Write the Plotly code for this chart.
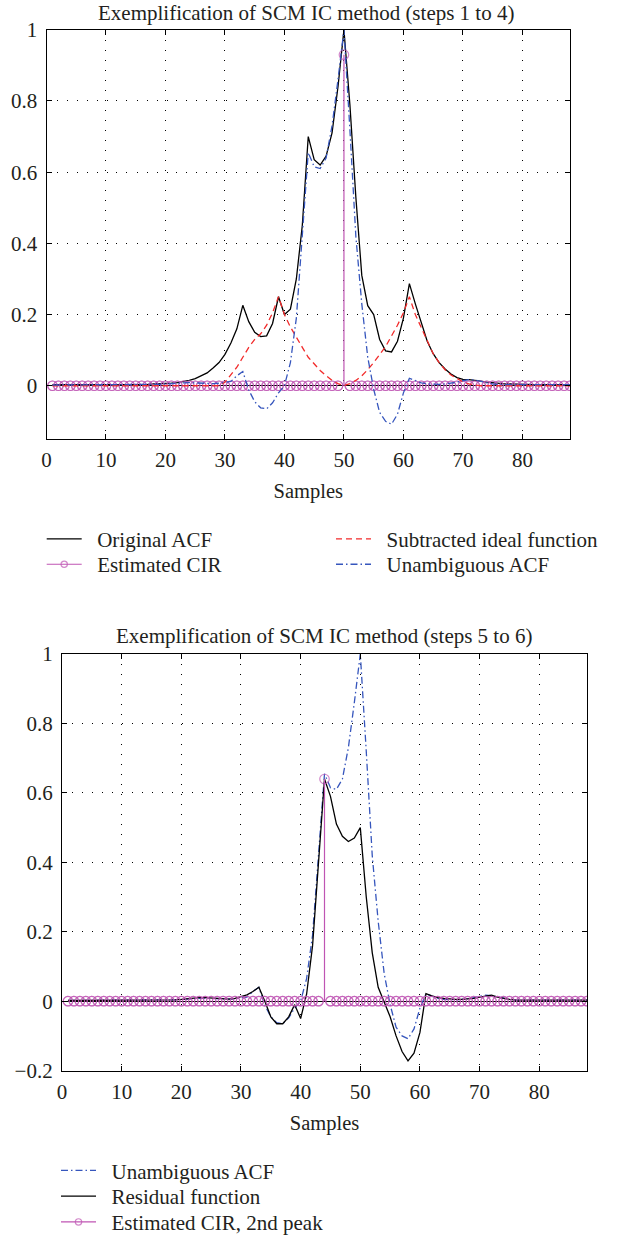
import plotly.graph_objects as go

# ---------------- data ----------------
samples = list(range(1, 89))

# top panel (steps 1 to 4)
orig_acf = [
    0.003, 0.003, 0.002, 0.002, 0.003, 0.003, 0.002, 0.002, 0.003, 0.003,
    0.003, 0.002, 0.002, 0.003, 0.004, 0.004, 0.004, 0.005, 0.005, 0.006,
    0.007, 0.009, 0.011, 0.015, 0.020, 0.027, 0.036, 0.050, 0.065, 0.088,
    0.120, 0.160, 0.226, 0.180, 0.150, 0.138, 0.140, 0.175, 0.250, 0.200,
    0.215, 0.300, 0.450, 0.700, 0.635, 0.620, 0.645, 0.710, 0.840, 1.000,
    0.790, 0.530, 0.310, 0.225, 0.200, 0.130, 0.098, 0.095, 0.125, 0.190,
    0.287, 0.230, 0.175, 0.125, 0.090, 0.065, 0.047, 0.033, 0.023, 0.018,
    0.017, 0.016, 0.013, 0.010, 0.008, 0.006, 0.005, 0.005, 0.004, 0.004,
    0.004, 0.003, 0.003, 0.003, 0.003, 0.003, 0.003, 0.003,
]

subtracted_ideal = [
    0.0, 0.0, 0.0, 0.0, 0.0, 0.0, 0.0, 0.0, 0.0, 0.0,
    0.0, 0.0, 0.0, 0.0, 0.0, 0.0, 0.0, 0.0, 0.0, 0.0,
    0.0, 0.0, 0.0, 0.0, 0.0, 0.0, 0.0, 0.0, 0.0, 0.010,
    0.030, 0.052, 0.080, 0.108, 0.130, 0.146, 0.170, 0.205, 0.250, 0.200,
    0.165, 0.135, 0.108, 0.080, 0.060, 0.043, 0.028, 0.015, 0.006, 0.0,
    0.006, 0.015, 0.028, 0.045, 0.065, 0.088, 0.110, 0.140, 0.170, 0.205,
    0.250, 0.200, 0.162, 0.125, 0.090, 0.065, 0.045, 0.030, 0.020, 0.011,
    0.005, 0.002, 0.0, 0.0, 0.0, 0.0, 0.0, 0.0, 0.0, 0.0,
    0.0, 0.0, 0.0, 0.0, 0.0, 0.0, 0.0, 0.0,
]

unambiguous_acf = [
    0.002, 0.002, 0.002, 0.002, 0.002, 0.002, 0.002, 0.002, 0.002, 0.002,
    0.002, 0.002, 0.002, 0.002, 0.003, 0.003, 0.003, 0.004, 0.004, 0.005,
    0.006, 0.008, 0.009, 0.009, 0.008, 0.007, 0.006, 0.006, 0.007, 0.009,
    0.012, 0.028, 0.040, -0.012, -0.045, -0.062, -0.065, -0.048, -0.020, 0.000,
    0.065, 0.190, 0.430, 0.655, 0.615, 0.610, 0.640, 0.730, 0.860, 1.000,
    0.720, 0.420, 0.230, 0.080, -0.010, -0.075, -0.100, -0.108, -0.080, -0.020,
    0.021, 0.015, 0.008, 0.005, 0.004, 0.004, 0.005, 0.007, 0.010, 0.014,
    0.017, 0.016, 0.012, 0.008, 0.005, 0.003, 0.003, 0.003, 0.003, 0.003,
    0.003, 0.003, 0.003, 0.003, 0.003, 0.003, 0.003, 0.003,
]

estimated_cir = [
    0.0, 0.0, 0.0, 0.0, 0.0, 0.0, 0.0, 0.0, 0.0, 0.0,
    0.0, 0.0, 0.0, 0.0, 0.0, 0.0, 0.0, 0.0, 0.0, 0.0,
    0.0, 0.0, 0.0, 0.0, 0.0, 0.0, 0.0, 0.0, 0.0, 0.0,
    0.0, 0.0, 0.0, 0.0, 0.0, 0.0, 0.0, 0.0, 0.0, 0.0,
    0.0, 0.0, 0.0, 0.0, 0.0, 0.0, 0.0, 0.0, 0.0, 0.93,
    0.0, 0.0, 0.0, 0.0, 0.0, 0.0, 0.0, 0.0, 0.0, 0.0,
    0.0, 0.0, 0.0, 0.0, 0.0, 0.0, 0.0, 0.0, 0.0, 0.0,
    0.0, 0.0, 0.0, 0.0, 0.0, 0.0, 0.0, 0.0, 0.0, 0.0,
    0.0, 0.0, 0.0, 0.0, 0.0, 0.0, 0.0, 0.0,
]

# bottom panel (steps 5 to 6)
residual = [
    0.002, 0.002, 0.002, 0.002, 0.002, 0.002, 0.002, 0.002, 0.002, 0.002,
    0.002, 0.002, 0.002, 0.002, 0.003, 0.003, 0.003, 0.004, 0.004, 0.005,
    0.007, 0.009, 0.010, 0.010, 0.009, 0.008, 0.007, 0.006, 0.008, 0.012,
    0.018, 0.028, 0.040, 0.000, -0.045, -0.065, -0.065, -0.045, -0.010, -0.050,
    0.020, 0.160, 0.390, 0.640, 0.590, 0.510, 0.475, 0.460, 0.470, 0.500,
    0.300, 0.140, 0.040, 0.000, -0.045, -0.100, -0.145, -0.172, -0.150, -0.090,
    0.022, 0.015, 0.010, 0.008, 0.006, 0.005, 0.005, 0.006, 0.008, 0.012,
    0.015, 0.017, 0.012, 0.008, 0.005, 0.003, 0.003, 0.003, 0.003, 0.003,
    0.003, 0.003, 0.003, 0.003, 0.003, 0.003, 0.003, 0.003,
]

estimated_cir_2nd = [
    0.0, 0.0, 0.0, 0.0, 0.0, 0.0, 0.0, 0.0, 0.0, 0.0,
    0.0, 0.0, 0.0, 0.0, 0.0, 0.0, 0.0, 0.0, 0.0, 0.0,
    0.0, 0.0, 0.0, 0.0, 0.0, 0.0, 0.0, 0.0, 0.0, 0.0,
    0.0, 0.0, 0.0, 0.0, 0.0, 0.0, 0.0, 0.0, 0.0, 0.0,
    0.0, 0.0, 0.0, 0.64, 0.0, 0.0, 0.0, 0.0, 0.0, 0.0,
    0.0, 0.0, 0.0, 0.0, 0.0, 0.0, 0.0, 0.0, 0.0, 0.0,
    0.0, 0.0, 0.0, 0.0, 0.0, 0.0, 0.0, 0.0, 0.0, 0.0,
    0.0, 0.0, 0.0, 0.0, 0.0, 0.0, 0.0, 0.0, 0.0, 0.0,
    0.0, 0.0, 0.0, 0.0, 0.0, 0.0, 0.0, 0.0,
]

x_ticks = [0, 10, 20, 30, 40, 50, 60, 70, 80]
y_ticks_top = [0, 0.2, 0.4, 0.6, 0.8, 1]
y_ticks_bottom = [-0.2, 0, 0.2, 0.4, 0.6, 0.8, 1]

title_top = "Exemplification of SCM IC method (steps 1 to 4)"
title_bottom = "Exemplification of SCM IC method (steps 5 to 6)"

# ---------------- style ----------------
W, H = 618, 1243
FONT = "Liberation Serif"
TXT = "#231f20"
BLACK = "#000000"
MAGENTA = "#bf55b3"
RED = "#f22a2a"
BLUE = "#3656bd"
MS = 9.5
PAD = "\u00a0\u00a0"
LEG_FONT = 21
TICK_FONT = 21
BLUE_DASH = "7px,3px,1.5px,3px"


def stem_xy(xs, ys):
    X, Y, S = [], [], []
    for x, y in zip(xs, ys):
        X += [x, x, None]
        Y += [0, y, None]
        S += [0 if y != 0 else MS, MS, 0]
    return X, Y, S


fig = go.Figure()

# ---- top panel ----
fig.add_trace(go.Scatter(x=samples, y=orig_acf, mode="lines", name=PAD + "Original ACF",
                         line=dict(color=BLACK, width=1.3), xaxis="x", yaxis="y",
                         legend="legend", showlegend=True))
sx, sy, ss = stem_xy(samples, estimated_cir)
fig.add_trace(go.Scatter(x=sx, y=sy, mode="lines+markers", name=PAD + "Estimated CIR",
                         line=dict(color=MAGENTA, width=1.2),
                         marker=dict(symbol="circle-open", size=ss, color=MAGENTA, line=dict(width=1.2)),
                         xaxis="x", yaxis="y", legend="legend4", showlegend=True))
fig.add_trace(go.Scatter(x=samples, y=subtracted_ideal, mode="lines", name=PAD + "Subtracted ideal function",
                         line=dict(color=RED, width=1.3, dash="6px,4px"), xaxis="x", yaxis="y",
                         legend="legend3", showlegend=True))
fig.add_trace(go.Scatter(x=samples, y=unambiguous_acf, mode="lines", name=PAD + "Unambiguous ACF",
                         line=dict(color=BLUE, width=1.3, dash=BLUE_DASH), xaxis="x", yaxis="y",
                         legend="legend5", showlegend=True))

# ---- bottom panel ----
fig.add_trace(go.Scatter(x=samples, y=unambiguous_acf, mode="lines", name=PAD + "Unambiguous ACF",
                         line=dict(color=BLUE, width=1.3, dash=BLUE_DASH), xaxis="x2", yaxis="y2",
                         legend="legend2", showlegend=True))
fig.add_trace(go.Scatter(x=samples, y=residual, mode="lines", name=PAD + "Residual function",
                         line=dict(color=BLACK, width=1.3), xaxis="x2", yaxis="y2",
                         legend="legend6", showlegend=True))
sx2, sy2, ss2 = stem_xy(samples, estimated_cir_2nd)
fig.add_trace(go.Scatter(x=sx2, y=sy2, mode="lines+markers", name=PAD + "Estimated CIR, 2nd peak",
                         line=dict(color=MAGENTA, width=1.2),
                         marker=dict(symbol="circle-open", size=ss2, color=MAGENTA, line=dict(width=1.2)),
                         xaxis="x2", yaxis="y2", legend="legend7", showlegend=True))

axis_common = dict(
    showline=True, linecolor=BLACK, linewidth=1.2, mirror="ticks",
    ticks="inside", ticklen=5, tickcolor=BLACK, tickwidth=1.2,
    showgrid=True, gridcolor=BLACK, gridwidth=1, griddash="1px,9px",
    tickfont=dict(family=FONT, size=TICK_FONT, color=TXT), automargin=False,
)


def px_x(p):
    return p / W


def px_y(p):
    return 1 - p / H


def leg(xp, yp):
    return dict(x=px_x(xp), y=px_y(yp), xanchor="left", yanchor="top", orientation="v",
                bgcolor="rgba(0,0,0,0)", itemwidth=35, font=dict(family=FONT, size=LEG_FONT, color=TXT))


LEG_OFF = 17.5  # legend top to text centre

fig.update_layout(
    width=W, height=H,
    showlegend=True,
    margin=dict(l=0, r=0, t=0, b=0),
    paper_bgcolor="white", plot_bgcolor="white",
    font=dict(family=FONT, size=20, color=TXT),
    xaxis=dict(axis_common, domain=[px_x(46.5), px_x(570)], range=[0, 88], tickvals=x_ticks,
               zeroline=False, anchor="y", ticklabelstandoff=2,
               title=dict(text="Samples", font=dict(family=FONT, size=20.5, color=TXT), standoff=12)),
    yaxis=dict(axis_common, domain=[px_y(442.7), px_y(30)], range=[-0.15, 1], tickvals=y_ticks_top,
               zeroline=True, zerolinecolor=BLACK, zerolinewidth=1.2, anchor="x", ticklabelstandoff=4),
    xaxis2=dict(axis_common, domain=[px_x(62), px_x(587)], range=[0, 88], tickvals=x_ticks,
                zeroline=False, anchor="y2", ticklabelstandoff=2,
                title=dict(text="Samples", font=dict(family=FONT, size=20.5, color=TXT), standoff=12)),
    yaxis2=dict(axis_common, domain=[px_y(1079.3), px_y(659.3)], range=[-0.2, 1], tickvals=y_ticks_bottom,
                zeroline=True, zerolinecolor=BLACK, zerolinewidth=1.2, anchor="x2", ticklabelstandoff=4),
    legend=leg(41.7, 540.5 - LEG_OFF),
    legend4=leg(41.7, 566.0 - LEG_OFF),
    legend3=leg(331, 540.5 - LEG_OFF),
    legend5=leg(331, 566.0 - LEG_OFF),
    legend2=leg(56, 1177 - LEG_OFF),
    legend6=leg(56, 1203 - LEG_OFF),
    legend7=leg(56, 1229 - LEG_OFF),
    annotations=[
        dict(text=title_top, x=px_x(305.5), y=1, xref="paper", yref="paper", borderpad=0,
             xanchor="center", yanchor="top", showarrow=False, font=dict(family=FONT, size=21, color=TXT)),
        dict(text=title_bottom, x=(px_x(62) + px_x(587)) / 2, y=px_y(641), xref="paper", yref="paper",
             xanchor="center", yanchor="middle", showarrow=False, font=dict(family=FONT, size=21, color=TXT)),
    ],
)

fig.write_html("out.html", config={"displayModeBar": False},
               post_script="document.body.style.margin='0px';")
